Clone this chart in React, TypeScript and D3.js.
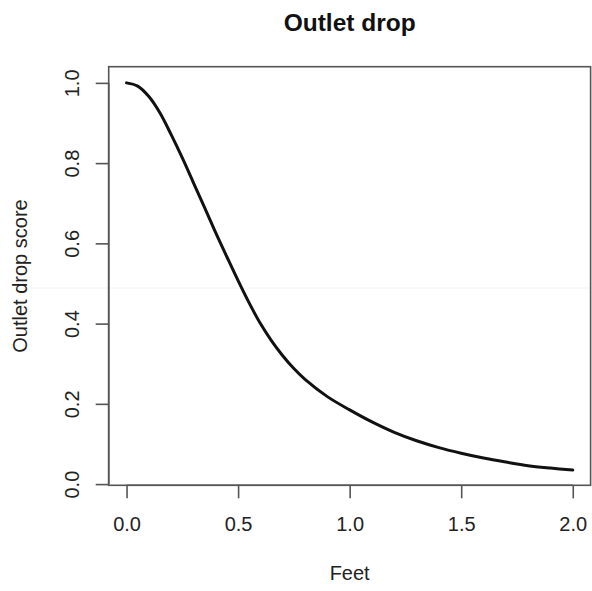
import { useEffect, useRef } from "react";
import * as d3 from "d3";

// readings
const feet = [0, 0.05, 0.1, 0.15, 0.2, 0.25, 0.3, 0.35, 0.4, 0.45, 0.5, 0.55, 0.6, 0.65, 0.7, 0.75, 0.8, 0.9, 1.0, 1.1, 1.2, 1.3, 1.4, 1.5, 1.6, 1.7, 1.8, 1.9, 2.0];
const score = [1.0, 0.992, 0.966, 0.925, 0.871, 0.813, 0.751, 0.689, 0.626, 0.566, 0.507, 0.451, 0.400, 0.357, 0.320, 0.288, 0.261, 0.218, 0.185, 0.155, 0.129, 0.108, 0.091, 0.077, 0.065, 0.055, 0.046, 0.040, 0.035];

const xTicks = [0, 0.5, 1.0, 1.5, 2.0];
const yTicks = [0, 0.2, 0.4, 0.6, 0.8, 1.0];

const title = "Outlet drop";
const xLabel = "Feet";
const yLabel = "Outlet drop score";

const W = 592;
const H = 591;
const FONT = "'Liberation Sans', Arial, Helvetica, sans-serif";

export default function App() {
  const svgRef = useRef<SVGSVGElement>(null);

  useEffect(() => {
    if (!svgRef.current) return;
    const svg = d3.select(svgRef.current);
    svg.selectAll("*").remove();

    // plot box
    const left = 108.7;
    const right = 590.6;
    const top = 66.7;
    const bottom = 485.3;

    const x = d3.scaleLinear().domain([-0.08, 2.08]).range([left, right]);
    const y = d3.scaleLinear().domain([-0.003, 1.0403]).range([bottom, top]);

    // faint scan artefact line in the reference
    svg.append("line")
      .attr("x1", 15).attr("x2", right)
      .attr("y1", 288).attr("y2", 288)
      .attr("stroke", "#f2f2f2").attr("stroke-width", 1);

    const line = d3
      .line<number>()
      .x((_, i) => x(feet[i]))
      .y((d) => y(d))
      .curve(d3.curveCatmullRom.alpha(0.5));

    svg.append("path")
      .datum(score)
      .attr("fill", "none")
      .attr("stroke", "#111")
      .attr("stroke-width", 3)
      .attr("stroke-linejoin", "round")
      .attr("stroke-linecap", "round")
      .attr("d", line);

    svg.append("rect")
      .attr("x", left).attr("y", top)
      .attr("width", right - left).attr("height", bottom - top)
      .attr("fill", "none")
      .attr("stroke", "#555")
      .attr("stroke-width", 1.6);

    // x axis
    const gx = svg.append("g")
      .attr("transform", `translate(0, ${bottom})`)
      .call(d3.axisBottom(x).tickValues(xTicks).tickSize(13).tickPadding(19).tickFormat(d3.format(".1f")));
    gx.select(".domain")
      .attr("stroke", "#555").attr("stroke-width", 1.6)
      .attr("d", `M${x(0)},0H${x(2)}`);
    gx.selectAll(".tick line").attr("stroke", "#555").attr("stroke-width", 1.6);
    gx.selectAll(".tick text")
      .attr("fill", "#222").attr("font-family", FONT).attr("font-size", 20);

    // y axis, labels rotated like base R
    const gy = svg.append("g")
      .attr("transform", `translate(${left}, 0)`)
      .call(d3.axisLeft(y).tickValues(yTicks).tickSize(13).tickFormat(d3.format(".1f")));
    gy.select(".domain")
      .attr("stroke", "#555").attr("stroke-width", 1.6)
      .attr("d", `M0,${y(0)}V${y(1)}`);
    gy.selectAll(".tick line").attr("stroke", "#555").attr("stroke-width", 1.6);
    gy.selectAll(".tick text")
      .attr("fill", "#222").attr("font-family", FONT).attr("font-size", 20)
      .attr("x", null).attr("dy", null)
      .attr("text-anchor", "middle")
      .attr("transform", "translate(-30, 0) rotate(-90)");

    svg.append("text")
      .attr("x", (left + right) / 2).attr("y", 31)
      .attr("text-anchor", "middle")
      .attr("font-family", FONT).attr("font-weight", "bold").attr("font-size", 24.5)
      .attr("fill", "#111")
      .text(title);

    svg.append("text")
      .attr("x", (left + right) / 2).attr("y", 580)
      .attr("text-anchor", "middle")
      .attr("font-family", FONT).attr("font-size", 20)
      .attr("fill", "#222")
      .text(xLabel);

    svg.append("text")
      .attr("transform", `translate(27, ${(top + bottom) / 2}) rotate(-90)`)
      .attr("text-anchor", "middle")
      .attr("font-family", FONT).attr("font-size", 20)
      .attr("fill", "#222")
      .text(yLabel);
  }, []);

  return (
    <svg
      ref={svgRef}
      width={W}
      height={H}
      style={{ position: "absolute", left: 0, top: 0, background: "#fff" }}
    />
  );
}
